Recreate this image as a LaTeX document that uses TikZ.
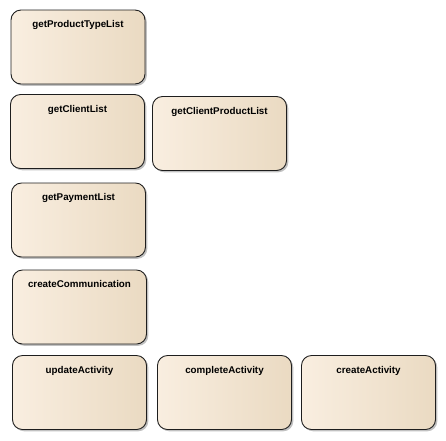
\documentclass[tikz,border=0pt]{standalone}
\usepackage{fontspec}
\setmainfont{Liberation Sans}
\usepackage{tikz}
\usetikzlibrary{shadows}

\begin{document}
\begin{tikzpicture}[x=1pt,y=-1pt]
% Define activity colours
\definecolor{actleft}{RGB}{249,238,224}
\definecolor{actmid}{RGB}{252,244,234}
\definecolor{actright}{RGB}{234,218,194}
\definecolor{actline}{RGB}{30,30,30}

\tikzset{
  activity/.style={draw=actline,line width=0.9pt,rounded corners=10pt,
    minimum width=134pt,minimum height=74pt,inner sep=0pt,
    left color=actleft,middle color=actmid,right color=actright,
    drop shadow={shadow xshift=1.8pt,shadow yshift=-1.8pt,fill=black!35,opacity=0.7}},
  acttitle/.style={anchor=north,yshift=-8pt,inner sep=3pt,font=\fontsize{9.8}{11}\selectfont\bfseries}
}

% Fix the canvas
\useasboundingbox (0,0) rectangle (446,440);

% Draw activities
\node[activity,label={[acttitle]north:getProductTypeList}] (productTypeList) at (78,47) {};
\node[activity,label={[acttitle]north:getClientList}] (clientList) at (77.5,131.5) {};
\node[activity,label={[acttitle]north:getClientProductList}] (clientProductList) at (219.5,133.5) {};
\node[activity,label={[acttitle]north:getPaymentList}] (paymentList) at (78.5,220) {};
\node[activity,label={[acttitle]north:createCommunication}] (createComm) at (79.5,307) {};
\node[activity,label={[acttitle]north:updateActivity}] (updateAct) at (79.5,392.5) {};
\node[activity,label={[acttitle]north:completeActivity}] (completeAct) at (224.5,392.5) {};
\node[activity,label={[acttitle]north:createActivity}] (createAct) at (368.5,392.5) {};
\end{tikzpicture}
\end{document}
